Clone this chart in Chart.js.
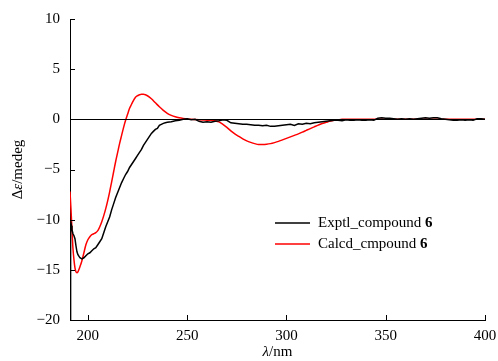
<!DOCTYPE html>
<html>
<head>
<meta charset="utf-8">
<script src="https://cdn.jsdelivr.net/npm/chart.js@4/dist/chart.umd.min.js"></script>
<style>
  html, body { margin:0; padding:0; background:#fff; }
  #wrap { width:498px; height:361px; }
</style>
</head>
<body>
<div id="wrap"><canvas id="cd"></canvas></div>
<script>
// ---- данные ----
const expX = [191.0,191.1,191.2,191.3,191.4,191.5,191.7,192,192.5,193,193.5,194,194.5,195,196,197,198,199,200,
  201,202,203,204,205,206,207,208,209,210,211,212,213,214,215,216,217,218,219,220,221,222,223,224,225,226,227,228,229,230,
  231,232,233,234,235,236,237,238,239,240,242,244,246,248,250,252,254,256,258,260,262,264,266,268,270,272,274,276,278,280,
  282,284,286,288,290,292,294,296,298,300,302,304,306,308,310,312,314,316,318,320,322,324,326,328,330,332,334,336,338,340,
  342,344,346,348,350,352,354,356,358,360,362,364,366,368,370,372,374,376,378,380,382,384,386,388,390,392,394,396,398,400];
const expY = [-20,-11,-19.5,-10.5,-17,-11.2,-10.6,-11.0,-11.4,-11.6,-11.9,-12.6,-13.2,-13.5,-13.8,-13.9,-13.8,-13.6,-13.4,
  -13.3,-13.1,-12.9,-12.8,-12.5,-12.2,-11.9,-11.3,-10.7,-10.2,-9.7,-9.0,-8.4,-7.8,-7.3,-6.8,-6.3,-5.9,-5.5,-5.2,-4.8,-4.5,-4.2,-3.9,-3.6,-3.3,-3.0,-2.6,-2.3,-2.0,
  -1.7,-1.4,-1.2,-1.0,-0.9,-0.6,-0.5,-0.4,-0.35,-0.3,-0.25,-0.15,-0.1,0,0.05,-0.05,0,-0.2,-0.3,-0.25,-0.3,-0.2,-0.15,-0.05,-0.1,-0.35,-0.4,-0.45,-0.5,-0.5,
  -0.55,-0.6,-0.6,-0.65,-0.6,-0.7,-0.7,-0.65,-0.6,-0.55,-0.5,-0.6,-0.45,-0.5,-0.4,-0.45,-0.35,-0.3,-0.25,-0.2,-0.15,-0.1,-0.1,-0.15,-0.05,-0.1,-0.1,-0.05,-0.1,-0.1,
  -0.05,-0.1,0.1,0.15,0.1,0.1,0.05,0,0.05,0,0.05,0,0.05,0.1,0.15,0.1,0.15,0.15,0.05,0,-0.05,-0.1,-0.1,-0.05,-0.1,-0.05,-0.1,0.05,0.05,0];

const calcX = [191,191.5,192,192.5,193,193.5,194,194.5,195,196,197,198,199,200,201,202,203,204,205,206,207,208,209,210,
  211,212,213,214,215,216,217,218,219,220,221,222,223,224,225,226,227,228,229,230,232,234,236,238,240,242,244,246,248,250,
  252,254,256,258,260,262,264,266,268,270,272,274,276,278,280,282,284,286,288,290,292,294,296,298,300,302,304,306,308,310,
  312,314,316,318,320,322,324,326,328,340,360,380,400];
const calcY = [-7.2,-9.0,-11.0,-12.9,-14.0,-14.8,-15.2,-15.3,-15.2,-14.7,-14.1,-13.3,-12.5,-12.0,-11.7,-11.5,-11.4,-11.3,-11.1,-10.7,-10.2,-9.6,-8.9,-8.1,
  -7.2,-6.2,-5.2,-4.2,-3.3,-2.4,-1.6,-0.8,-0.1,0.5,1.1,1.5,1.9,2.2,2.35,2.45,2.5,2.5,2.45,2.35,2.05,1.65,1.25,0.9,0.6,0.4,0.25,0.15,0.08,0.03,
  0,-0.02,-0.04,-0.06,-0.08,-0.1,-0.15,-0.25,-0.5,-0.8,-1.15,-1.45,-1.7,-1.95,-2.15,-2.3,-2.42,-2.5,-2.5,-2.48,-2.42,-2.32,-2.2,-2.05,-1.9,-1.75,-1.6,-1.45,-1.28,-1.1,
  -0.92,-0.75,-0.58,-0.42,-0.3,-0.18,-0.1,-0.05,0,0,0,0,0];

const xTicks = [200, 250, 300, 350, 400];
const yTicks = [-20, -15, -10, -5, 0, 5, 10];

const serif = "'Liberation Serif', 'Times New Roman', serif";

// тики внутрь, нулевая линия, подписи осей и легенда
const decor = {
  id: 'decor',
  afterDraw(chart) {
    const { ctx, chartArea: a, scales: { x, y } } = chart;
    ctx.save();
    ctx.strokeStyle = '#000';
    ctx.lineWidth = 1;
    // нулевая линия
    const y0 = Math.round(y.getPixelForValue(0)) + 0.5;
    ctx.beginPath(); ctx.moveTo(a.left, y0); ctx.lineTo(a.right, y0); ctx.stroke();
    // тики
    ctx.beginPath();
    xTicks.forEach(v => { const p = Math.round(x.getPixelForValue(v)) + 0.5; ctx.moveTo(p, a.bottom); ctx.lineTo(p, a.bottom - 5); });
    yTicks.forEach(v => { const p = Math.round(y.getPixelForValue(v)) + 0.5; ctx.moveTo(a.left, p); ctx.lineTo(a.left + 5, p); });
    ctx.stroke();

    ctx.fillStyle = '#000';
    ctx.textBaseline = 'middle';
    // подпись X: λ/nm
    const xt = (a.left + a.right) / 2;
    ctx.font = `italic 15px ${serif}`;
    const wL = ctx.measureText('λ').width;
    ctx.font = `15px ${serif}`;
    const wR = ctx.measureText('/nm').width;
    let sx = xt - (wL + wR) / 2;
    ctx.textAlign = 'left';
    ctx.font = `italic 15px ${serif}`; ctx.fillText('λ', sx, 352);
    ctx.font = `15px ${serif}`; ctx.fillText('/nm', sx + wL, 352);

    // подпись Y: Δε/medeg
    ctx.save();
    ctx.translate(18, (a.top + a.bottom) / 2);
    ctx.rotate(-Math.PI / 2);
    const parts = [['Δ', ''], ['ε', 'italic '], ['/medeg', '']];
    let tw = 0;
    parts.forEach(p => { ctx.font = `${p[1]}15px ${serif}`; tw += ctx.measureText(p[0]).width; });
    let px = -tw / 2;
    parts.forEach(p => { ctx.font = `${p[1]}15px ${serif}`; ctx.fillText(p[0], px, 0); px += ctx.measureText(p[0]).width; });
    ctx.restore();

    // легенда
    const rows = [['Exptl_compound ', '#000', 223], ['Calcd_cmpound ', '#ff0000', 244]];
    rows.forEach(([t, c, ly]) => {
      ctx.strokeStyle = c; ctx.lineWidth = 1.5;
      ctx.beginPath(); ctx.moveTo(275, ly); ctx.lineTo(310, ly); ctx.stroke();
      ctx.font = `15px ${serif}`;
      ctx.fillText(t, 318, ly);
      const w = ctx.measureText(t).width;
      ctx.font = `bold 15px ${serif}`;
      ctx.fillText('6', 318 + w, ly);
    });
    ctx.restore();
  }
};

new Chart(document.getElementById('cd'), {
  type: 'line',
  data: {
    datasets: [
      {
        label: 'Exptl_compound 6',
        data: expX.map((v, i) => ({ x: v, y: expY[i] })),
        borderColor: '#000', borderWidth: 1.5, pointRadius: 0, tension: 0
      },
      {
        label: 'Calcd_cmpound 6',
        data: calcX.map((v, i) => ({ x: v, y: calcY[i] })),
        borderColor: '#ff0000', borderWidth: 1.5, pointRadius: 0,
        cubicInterpolationMode: 'monotone'
      }
    ]
  },
  options: {
    responsive: true,
    maintainAspectRatio: false,
    animation: false,
    layout: { padding: { left: 0, top: 18, right: 13, bottom: 0 } },
    plugins: { legend: { display: false }, tooltip: { enabled: false } },
    scales: {
      x: {
        type: 'linear', min: 191, max: 400,
        afterBuildTicks: s => { s.ticks = xTicks.map(v => ({ value: v })); },
        afterFit: s => { s.height = 41; s.paddingRight = 0; },
        grid: { display: false, drawTicks: false },
        border: { display: true, color: '#000', width: 1 },
        ticks: { color: '#000', padding: 7, maxRotation: 0, font: { family: serif, size: 15 } }
      },
      y: {
        min: -20, max: 10,
        afterBuildTicks: s => { s.ticks = yTicks.map(v => ({ value: v })); },
        afterFit: s => { s.width = 70; },
        grid: { display: false, drawTicks: false },
        border: { display: true, color: '#000', width: 1 },
        ticks: { color: '#000', padding: 10, font: { family: serif, size: 15 },
          callback: v => (v < 0 ? '\u2212' + Math.abs(v) : String(v)) }
      }
    }
  },
  plugins: [decor]
});
</script>
</body>
</html>
